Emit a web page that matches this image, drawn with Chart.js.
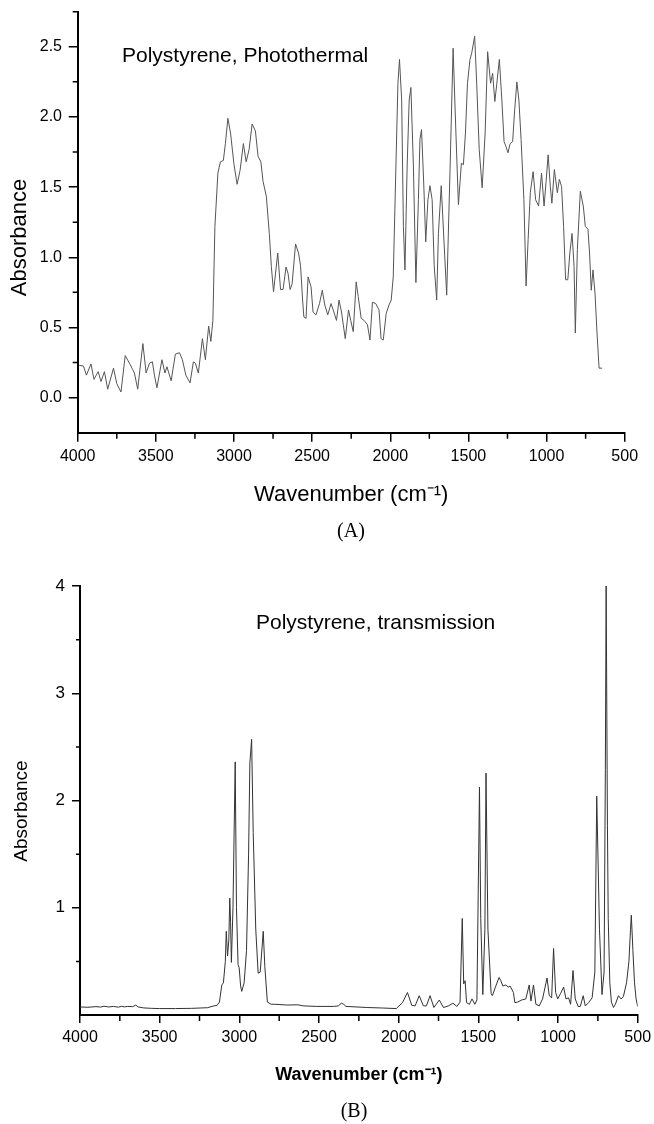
<!DOCTYPE html>
<html>
<head>
<meta charset="utf-8">
<script src="https://cdn.jsdelivr.net/npm/chart.js@4.4.1/dist/chart.umd.min.js"></script>
<style>
html,body{margin:0;padding:0;background:#fff;}
#wrap{position:relative;width:654px;height:1124px;overflow:hidden;background:#fff;}
canvas{position:absolute;left:0;}
.lbl{position:absolute;white-space:nowrap;color:#000;font-family:'Liberation Sans',Arial,sans-serif;font-size:21px;line-height:21px;}
.pan{position:absolute;width:100px;text-align:center;color:#000;font-family:'Liberation Serif','Times New Roman',serif;font-size:20px;line-height:20px;}
</style>
</head>
<body>
<div id="wrap">
  <canvas id="chartA" width="654" height="520" style="top:0px"></canvas>
  <canvas id="chartB" width="654" height="564" style="top:560px"></canvas>
  <div class="lbl" style="left:122px;top:44px;">Polystyrene, Photothermal</div>
  <div class="pan" style="left:301px;top:520px;">(A)</div>
  <div class="lbl" style="left:256px;top:611px;">Polystyrene, transmission</div>
  <div class="pan" style="left:304px;top:1100px;">(B)</div>
</div>
<script>
// ---------- Panel A: photothermal spectrum ----------
const wnA = [
  3990,3963,3944,3915,3896,3869,3851,3829,3808,3771,
  3750,3723,3696,3669,3648,3637,3616,3583,3562,3541,
  3522,3509,3493,3461,3442,3429,3402,3375,3349,3330,
  3308,3281,3260,3247,3228,3202,3183,3162,3148,3135,
  3122,3103,3087,3068,3055,3039,3022,3001,2980,2961,
  2940,2922,2903,2884,2863,2846,2828,2814,2793,2774,
  2761,2747,2720,2702,2686,2667,2654,2641,2628,2606,
  2587,2574,2561,2553,2539,2526,2507,2494,2475,2453,
  2435,2419,2400,2379,2361,2344,2328,2312,2288,2267,
  2253,2237,2218,2205,2186,2168,2146,2130,2114,2093,
  2072,2059,2045,2026,2008,1994,1981,1965,1951,1941,
  1927,1916,1906,1892,1879,1868,1852,1836,1820,1810,
  1800,1786,1773,1759,1746,1732,1719,1703,1692,1674,
  1657,1639,1617,1598,1580,1564,1545,1532,1519,1506,
  1490,1479,1460,1447,1431,1412,1393,1377,1358,1345,
  1331,1318,1302,1286,1272,1260,1247,1233,1217,1204,
  1190,1177,1163,1145,1131,1118,1104,1086,1070,1051,
  1032,1016,1003,990,976,966,950,931,918,904,
  891,878,864,851,837,824,816,803,784,765,
  752,735,725,714,703,690,677,664,645
];
const absA = [
  0.23,0.225,0.16,0.24,0.13,0.185,0.115,0.185,0.06,0.21,
  0.10,0.04,0.30,0.245,0.20,0.175,0.06,0.385,0.175,0.245,
  0.255,0.16,0.07,0.27,0.175,0.22,0.12,0.31,0.32,0.27,
  0.16,0.105,0.255,0.245,0.175,0.42,0.27,0.51,0.40,0.55,
  1.22,1.60,1.68,1.69,1.81,1.99,1.885,1.67,1.52,1.62,
  1.81,1.68,1.77,1.95,1.90,1.72,1.68,1.54,1.435,1.17,
  0.935,0.755,1.03,0.77,0.77,0.93,0.885,0.77,0.81,1.095,
  1.03,0.94,0.695,0.575,0.565,0.86,0.79,0.61,0.59,0.67,
  0.765,0.66,0.59,0.67,0.61,0.55,0.695,0.61,0.42,0.625,
  0.55,0.47,0.825,0.72,0.565,0.55,0.52,0.41,0.68,0.67,
  0.625,0.42,0.41,0.60,0.66,0.695,0.86,1.60,2.24,2.41,
  2.12,1.22,0.91,1.65,2.12,2.21,1.65,0.82,1.41,1.84,
  1.91,1.53,1.11,1.41,1.51,1.41,0.94,0.695,1.17,1.51,
  1.13,0.73,1.65,2.49,1.885,1.375,1.67,1.66,1.885,2.24,
  2.41,2.455,2.575,2.24,1.77,1.495,1.885,2.465,2.24,2.31,
  2.11,2.24,2.41,2.12,1.825,1.79,1.745,1.81,1.825,2.05,
  2.25,2.12,1.84,1.41,0.795,1.125,1.46,1.61,1.41,1.365,
  1.60,1.365,1.54,1.73,1.505,1.385,1.625,1.46,1.555,1.505,
  1.22,0.84,0.84,1.03,1.17,0.935,0.46,1.055,1.47,1.365,
  1.22,1.20,1.03,0.765,0.91,0.745,0.46,0.21,0.21
];

// ---------- Panel B: transmission spectrum ----------
const wnB = [
  4000,3950,3900,3870,3850,3820,3790,3760,3740,3720,
  3700,3670,3650,3635,3600,3550,3500,3400,3300,3200,
  3160,3140,3125,3110,3100,3088,3082,3074,3066,3060,
  3055,3050,3040,3026,3018,3008,3001,2992,2985,2970,
  2955,2942,2934,2923,2913,2897,2882,2869,2850,2840,
  2824,2800,2777,2700,2632,2600,2514,2409,2378,2360,
  2345,2331,2200,2100,2015,1976,1945,1918,1897,1871,
  1845,1826,1803,1779,1745,1719,1687,1660,1635,1615,
  1601,1592,1583,1574,1556,1540,1522,1509,1493,1485,
  1472,1459,1452,1440,1420,1412,1393,1370,1359,1346,
  1328,1312,1301,1280,1271,1254,1228,1202,1181,1170,
  1154,1139,1118,1097,1069,1055,1040,1028,1015,1002,
  984,965,950,934,921,906,892,874,860,842,
  829,808,786,769,757,740,724,711,703,698,
  690,685,675,665,652,640,621,605,590,570,
  555,545,540,530,520,510,500
];
const absB = [
  0.075,0.072,0.078,0.074,0.082,0.075,0.08,0.073,0.08,0.076,
  0.08,0.078,0.092,0.075,0.066,0.062,0.06,0.06,0.062,0.068,
  0.085,0.09,0.12,0.28,0.30,0.5,0.78,0.55,0.7,1.09,
  0.86,0.49,1.0,2.36,1.0,0.47,0.44,0.27,0.22,0.3,
  0.6,1.5,2.35,2.57,1.7,0.8,0.39,0.40,0.78,0.45,
  0.12,0.1,0.1,0.093,0.095,0.085,0.08,0.08,0.085,0.11,
  0.1,0.08,0.07,0.065,0.06,0.115,0.21,0.09,0.085,0.18,
  0.085,0.085,0.18,0.07,0.14,0.07,0.085,0.11,0.08,0.12,
  0.90,0.29,0.32,0.115,0.10,0.15,0.10,0.14,2.125,0.9,
  0.19,0.8,2.255,0.8,0.2,0.18,0.26,0.35,0.32,0.27,
  0.28,0.26,0.27,0.21,0.115,0.12,0.14,0.15,0.28,0.13,
  0.28,0.10,0.085,0.15,0.345,0.18,0.16,0.62,0.21,0.15,
  0.20,0.26,0.15,0.16,0.10,0.415,0.15,0.08,0.08,0.18,
  0.085,0.115,0.16,0.4,2.04,0.8,0.19,0.4,2.29,4.0,
  1.77,0.9,0.3,0.12,0.07,0.1,0.18,0.15,0.17,0.3,
  0.5,0.8,0.93,0.6,0.3,0.15,0.08
];

// ---------- Axis ticks ----------
const xTicks  = [4000, 3500, 3000, 2500, 2000, 1500, 1000, 500];
const xMinor  = [3750, 3250, 2750, 2250, 1750, 1250, 750];
const yTicksA = [0, 0.5, 1, 1.5, 2, 2.5];
const yMinorA = [0.25, 0.75, 1.25, 1.75, 2.25, 2.75];
const yTicksB = [1, 2, 3, 4];
const yMinorB = [0.5, 1.5, 2.5, 3.5];

Chart.defaults.font.family = "'Liberation Sans', Arial, sans-serif";
Chart.defaults.color = '#000';

const minorTicksPlugin = {
  id: 'minorTicks',
  afterDraw(chart, args, o) {
    const ctx = chart.ctx, xs = chart.scales.x, ys = chart.scales.y;
    ctx.save();
    ctx.strokeStyle = '#000';
    ctx.lineWidth = 1.5;
    ctx.beginPath();
    o.xs.forEach(v => { const p = xs.getPixelForValue(v); ctx.moveTo(p, xs.top); ctx.lineTo(p, xs.top + o.xLen); });
    o.ys.forEach(v => { const p = ys.getPixelForValue(v); ctx.moveTo(ys.right, p); ctx.lineTo(ys.right - o.yLen, p); });
    ctx.stroke();
    ctx.restore();
  }
};

function makeChart(id, c) {
  return new Chart(document.getElementById(id), {
    type: 'line',
    data: {
      datasets: [{
        data: c.wn.map((x, i) => ({ x: x, y: c.ab[i] })),
        borderColor: c.color, borderWidth: 1, pointRadius: 0, tension: 0, fill: false
      }]
    },
    options: {
      responsive: false, animation: false, events: [],
      layout: { padding: c.pad },
      plugins: {
        legend: { display: false }, tooltip: { enabled: false },
        minorTicks: { xs: xMinor, ys: c.yMinor, xLen: 6, yLen: c.yMinLen }
      },
      scales: {
        x: {
          type: 'linear', reverse: true, min: 500, max: 4000,
          afterBuildTicks: s => { s.ticks = xTicks.map(v => ({ value: v })); },
          afterFit: s => { s.height = c.xH; s.paddingLeft = 0; s.paddingRight = 0; },
          border: { display: true, color: '#000', width: 2 },
          grid: { drawOnChartArea: false, drawTicks: true, tickLength: c.xTL, color: '#000', lineWidth: 1.5 },
          ticks: { color: '#000', font: { size: 16 }, padding: c.xTP, maxRotation: 0, autoSkip: false,
                   callback: v => String(v) },
          title: { display: true, text: 'Wavenumber (cm\u207B\u00B9)', color: '#000', font: c.xTitleFont,
                   padding: { top: 0, bottom: c.xTitlePB } }
        },
        y: {
          type: 'linear', min: c.yMin, max: c.yMax,
          afterBuildTicks: s => { s.ticks = c.yTicks.map(v => ({ value: v })); },
          afterFit: s => { s.width = c.yW; s.paddingTop = 0; s.paddingBottom = 0; },
          border: { display: true, color: '#000', width: 2 },
          grid: { drawOnChartArea: false, drawTicks: true, tickLength: c.yTL, color: '#000', lineWidth: 1.5 },
          ticks: { color: '#000', font: { size: c.yTickSize }, padding: c.yTP, callback: c.yFmt },
          title: { display: true, text: c.yTitle, color: '#000', font: c.yTitleFont,
                   padding: { top: c.yTitlePT, bottom: 0 } }
        }
      }
    },
    plugins: [minorTicksPlugin]
  });
}

makeChart('chartA', {
  wn: wnA, ab: absA, color: '#555555',
  pad: { top: 11.7, right: 29.3, bottom: 0, left: 0 },
  xH: 87.3, xTL: 9, xTP: 5, xTitleFont: { size: 22 }, xTitlePB: 11.8,
  yMin: -0.25, yMax: 2.75, yTicks: yTicksA, yMinor: yMinorA, yMinLen: 5,
  yW: 77.7, yTL: 9, yTP: 6.7, yTickSize: 16, yFmt: v => Number(v).toFixed(1),
  yTitle: 'Absorbance\u00A0\u00A0\u00A0\u00A0\u00A0', yTitleFont: { size: 22 }, yTitlePT: 6.8
});

makeChart('chartB', {
  wn: wnB, ab: absB, color: '#333333',
  pad: { top: 26, right: 16.3, bottom: 0, left: 0 },
  xH: 109, xTL: 8, xTP: 5, xTitleFont: { size: 18, weight: 'bold' }, xTitlePB: 38.2,
  yMin: 0, yMax: 4, yTicks: yTicksB, yMinor: yMinorB, yMinLen: 4,
  yW: 80, yTL: 8, yTP: 7, yTickSize: 17, yFmt: v => String(v),
  yTitle: 'Absorbance\u00A0\u00A0\u00A0\u00A0', yTitleFont: { size: 19 }, yTitlePT: 10.6
});
</script>
</body>
</html>
